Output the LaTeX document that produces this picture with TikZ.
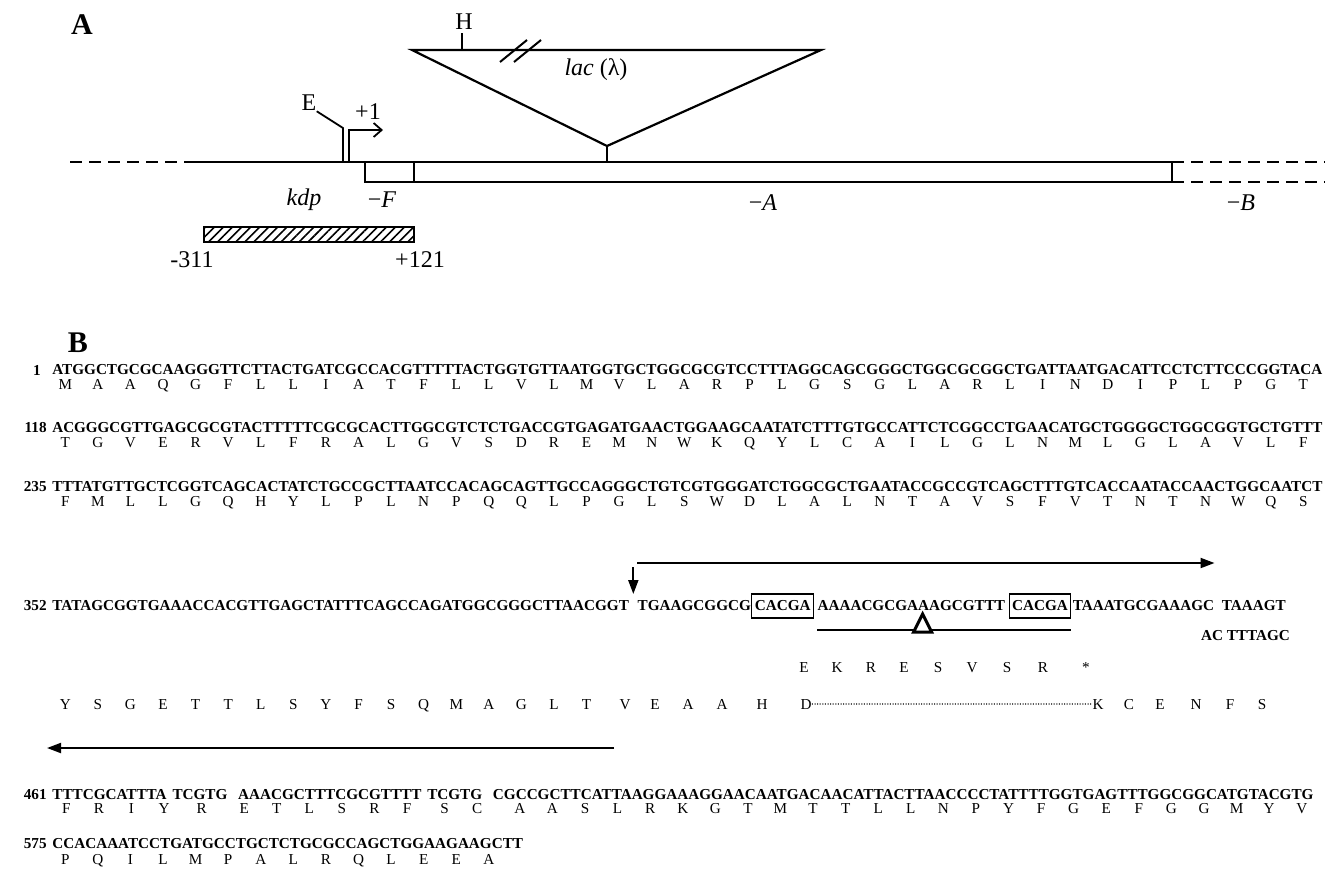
\documentclass[tikz,border=0pt]{standalone}
\usepackage{fontspec}
\setmainfont{Liberation Serif}
\usetikzlibrary{arrows.meta, positioning, calc, patterns.meta}

\newcommand{\seqsize}{\fontsize{7.6}{9}\selectfont}
\newcommand{\lblsize}{\fontsize{12}{14}\selectfont}
\newcommand{\fullline}[1]{\resizebox{635pt}{\height}{#1}}

\tikzset{
  seq/.style={anchor=west, inner sep=0pt, font=\seqsize\bfseries},
  seqnum/.style={anchor=east, inner sep=0pt, font=\seqsize\bfseries},
  aa/.style={anchor=base, inner sep=0pt, font=\seqsize},
  motif/.style={anchor=west, draw, line width=0.6pt, inner xsep=1.5pt, inner ysep=0pt, minimum height=12pt, font=\seqsize\bfseries},
  lbl/.style={inner sep=0pt, font=\lblsize},
  panel/.style={inner sep=0pt, font=\fontsize{15}{17}\selectfont\bfseries},
  dna/.style={line width=1pt},
  orf/.style={line width=1pt, -{Triangle[length=7pt,width=5pt]}},
}

\begin{document}
\begin{tikzpicture}[x=0.5pt, y=-0.5pt]
    \useasboundingbox (0,0) rectangle (1332,885);

    % Panel A: kdp region with the lac insertion
    \node[panel] (pA) at (82,25) {A};
    \draw[dna, dashed, dash pattern=on 6pt off 3.5pt] (70,162) -- (195,162);
    \draw[dna] (195,162) -- (1172,162);
    \draw[dna] (365,162) |- (1172,182) -- (1172,162);
    \draw[dna] (414,162) -- (414,182);
    \draw[dna, dashed, dash pattern=on 6pt off 3.5pt] (1172,162) -- (1325,162);
    \draw[dna, dashed, dash pattern=on 6pt off 3.5pt] (1172,182) -- (1325,182);

    % insertion
    \draw[line width=1.1pt, line join=miter] (412,50) -- (821,50) -- (607,146) -- cycle;
    \draw[line width=1.1pt] (607,146) -- (607,162);
    \draw[line width=1pt] (500,62) -- (527,40);
    \draw[line width=1pt] (514,62) -- (541,40);
    \node[lbl] (hind) at (464,22) {H};
    \draw[line width=0.9pt] (462,33) -- (462,50);
    \node[lbl] (lacIns) at (596,70) {\textit{lac} (λ)};

    % promoter and restriction site
    \node[lbl] (eco) at (309,103) {E};
    \draw[line width=0.9pt] (eco.south east) -- (343,128) -- (343,162);
    \draw[line width=0.9pt, -{Straight Barb[length=4pt,width=7pt]}] (349,162) -- (349,130) -- (383,130);
    \node[lbl] (tss) at (368,112) {+1};

    % gene labels
    \node[lbl] (kdp) at (304,200) {\textit{kdp}};
    \node[lbl] (geneF) at (382,200) {−\textit{F}};
    \node[lbl] (geneA) at (763,203) {−\textit{A}};
    \node[lbl] (geneB) at (1241,203) {−\textit{B}};

    % fragment
    \draw[line width=0.8pt, pattern={Lines[angle=45,distance=3.2pt,line width=0.8pt]}] (204,227) rectangle (414,242);
    \node[lbl] (fragL) at (192,260) {-311};
    \node[lbl] (fragR) at (420,260) {+121};

    % Panel B: sequence
    \node[panel] (pB) at (78,343) {B};

    \node[seqnum] (n1) at (41,370) {1};
    \node[seq] (s1) at (52,370) {\fullline{ATGGCTGCGCAAGGGTTCTTACTGATCGCCACGTTTTTACTGGTGTTAATGGTGCTGGCGCGTCCTTTAGGCAGCGGGCTGGCGCGGCTGATTAATGACATTCCTCTTCCCGGTACA}};
    \foreach \a [count=\k from 0] in {M,A,A,Q,G,F,L,L,I,A,T,F,L,L,V,L,M,V,L,A,R,P,L,G,S,G,L,A,R,L,I,N,D,I,P,L,P,G,T}
        \node[aa] (r1a\k) at ({65.3+32.58*\k},389) {\a};

    \node[seqnum] (n118) at (47,428) {118};
    \node[seq] (s2) at (52,428) {\fullline{ACGGGCGTTGAGCGCGTACTTTTTCGCGCACTTGGCGTCTCTGACCGTGAGATGAACTGGAAGCAATATCTTTGTGCCATTCTCGGCCTGAACATGCTGGGGCTGGCGGTGCTGTTT}};
    \foreach \a [count=\k from 0] in {T,G,V,E,R,V,L,F,R,A,L,G,V,S,D,R,E,M,N,W,K,Q,Y,L,C,A,I,L,G,L,N,M,L,G,L,A,V,L,F}
        \node[aa] (r2a\k) at ({65.3+32.58*\k},447) {\a};

    \node[seqnum] (n235) at (47,487) {235};
    \node[seq] (s3) at (52,487) {\fullline{TTTATGTTGCTCGGTCAGCACTATCTGCCGCTTAATCCACAGCAGTTGCCAGGGCTGTCGTGGGATCTGGCGCTGAATACCGCCGTCAGCTTTGTCACCAATACCAACTGGCAATCT}};
    \foreach \a [count=\k from 0] in {F,M,L,L,G,Q,H,Y,L,P,L,N,P,Q,Q,L,P,G,L,S,W,D,L,A,L,N,T,A,V,S,F,V,T,N,T,N,W,Q,S}
        \node[aa] (r3a\k) at ({65.3+32.58*\k},506) {\a};

    % line 352 with the repeat
    \node[seqnum] (n352) at (47,606) {352};
    \node[seq] (s4a) at (52,606) {TATAGCGGTGAAACCACGTTGAGCTATTTCAGCCAGATGGCGGGCTTAACGGT};
    \node[seq, right=4pt of s4a] (s4b) {TGAAGCGGCG};
    \node[motif, right=0pt of s4b] (rep1) {CACGA};
    \node[seq, right=1.5pt of rep1] (s4c) {AAAACGCGAAAGCGTTT};
    \node[motif, right=1.5pt of s4c] (rep2) {CACGA};
    \node[seq, right=0.5pt of rep2] (s4d) {TAAATGCGAAAGC};
    \node[seq, right=3.5pt of s4d] (s4e) {TAAAGT};
    \node[seq, anchor=east] (s4f) at ([xshift=2pt,yshift=-15pt]s4e.east) {AC TTTAGC};

    \draw[orf] ([xshift=2pt,yshift=19.5pt]s4a.east) -- ([xshift=2pt,yshift=6pt]s4a.east);
    \draw[orf] ([yshift=21.5pt]s4b.west) -- ([yshift=21.5pt]s4d.east);
    \draw[line width=1pt] ([yshift=-12pt]s4c.west) -- ([yshift=-12pt]rep2.east);
    \coordinate (delMark) at ($(s4c.west)!0.56!(s4c.east)$);
    \draw[line width=1.5pt, fill=white, line join=miter] ([xshift=-4.5pt,yshift=-13pt]delMark) -- ([xshift=4.5pt,yshift=-13pt]delMark) -- ([yshift=-4pt]delMark) -- cycle;

    \foreach \x/\a [count=\k] in {804/E,837/K,871/R,904/E,938/S,972/V,1007/S,1043/R,1086/*}
        \node[aa] (r4b\k) at (\x,672) {\a};

    \foreach \a [count=\k from 0] in {Y,S,G,E,T,T,L,S,Y,F,S,Q,M,A,G,L,T}
        \node[aa] (r4a\k) at ({65.3+32.58*\k},709) {\a};
    \foreach \x/\a [count=\k from 17] in {625/V,655/E,688/A,722/A,762/H}
        \node[aa] (r4a\k) at (\x,709) {\a};
    \node[aa] (aaD) at (806,709) {D};
    \node[aa] (aaK) at (1098,709) {K};
    \foreach \x/\a [count=\k] in {1129/C,1160/E,1196/N,1230/F,1262/S}
        \node[aa] (r4c\k) at (\x,709) {\a};
    \draw[line width=0.6pt, dash pattern=on 0.5pt off 0.8pt] (aaD.east) -- (aaK.west);

    \coordinate (revS) at (614,748);
    \coordinate (revE) at (47,748);
    \draw[orf] (revS) -- (revE);

    % line 461
    \node[seqnum] (n461) at (47,795) {461};
    \node[seq] (s5a) at (52,795) {TTTCGCATTTA};
    \node[seq, right=2.5pt of s5a] (s5b) {TCGTG};
    \node[seq, right=5pt of s5b] (s5c) {AAACGCTTTCGCGTTTT};
    \node[seq, right=2.5pt of s5c] (s5d) {TCGTG};
    \node[seq, right=5pt of s5d] (s5e) {CGCCGCTTCATTAAGGAAAGGAACAATGACAACATTACTTAACCCCTATTTTGGTGAGTTTGGCGGCATGTACGTG};
    \foreach \a [count=\k from 0] in {F,R,I,Y,R,E,T,L,S,R,F,S,C,A,A,S,L,R,K,G,T,M,T,T,L,L,N,P,Y,F,G,E,F,G,G,M,Y,V} {
        \pgfmathsetmacro{\c}{3*\k+1}
        \node[aa] (r5a\k) at ({50+(\c+0.5)*10.86+5*(\c>10)+10*(\c>15)+5*(\c>32)+10*(\c>37)},813) {\a};
    }

    \node[seqnum] (n575) at (47,844) {575};
    \node[seq] (s6) at (52,844) {CCACAAATCCTGATGCCTGCTCTGCGCCAGCTGGAAGAAGCTT};
    \foreach \a [count=\k from 0] in {P,Q,I,L,M,P,A,L,R,Q,L,E,E,A}
        \node[aa] (r6a\k) at ({65.3+32.58*\k},864) {\a};
\end{tikzpicture}
\end{document}
